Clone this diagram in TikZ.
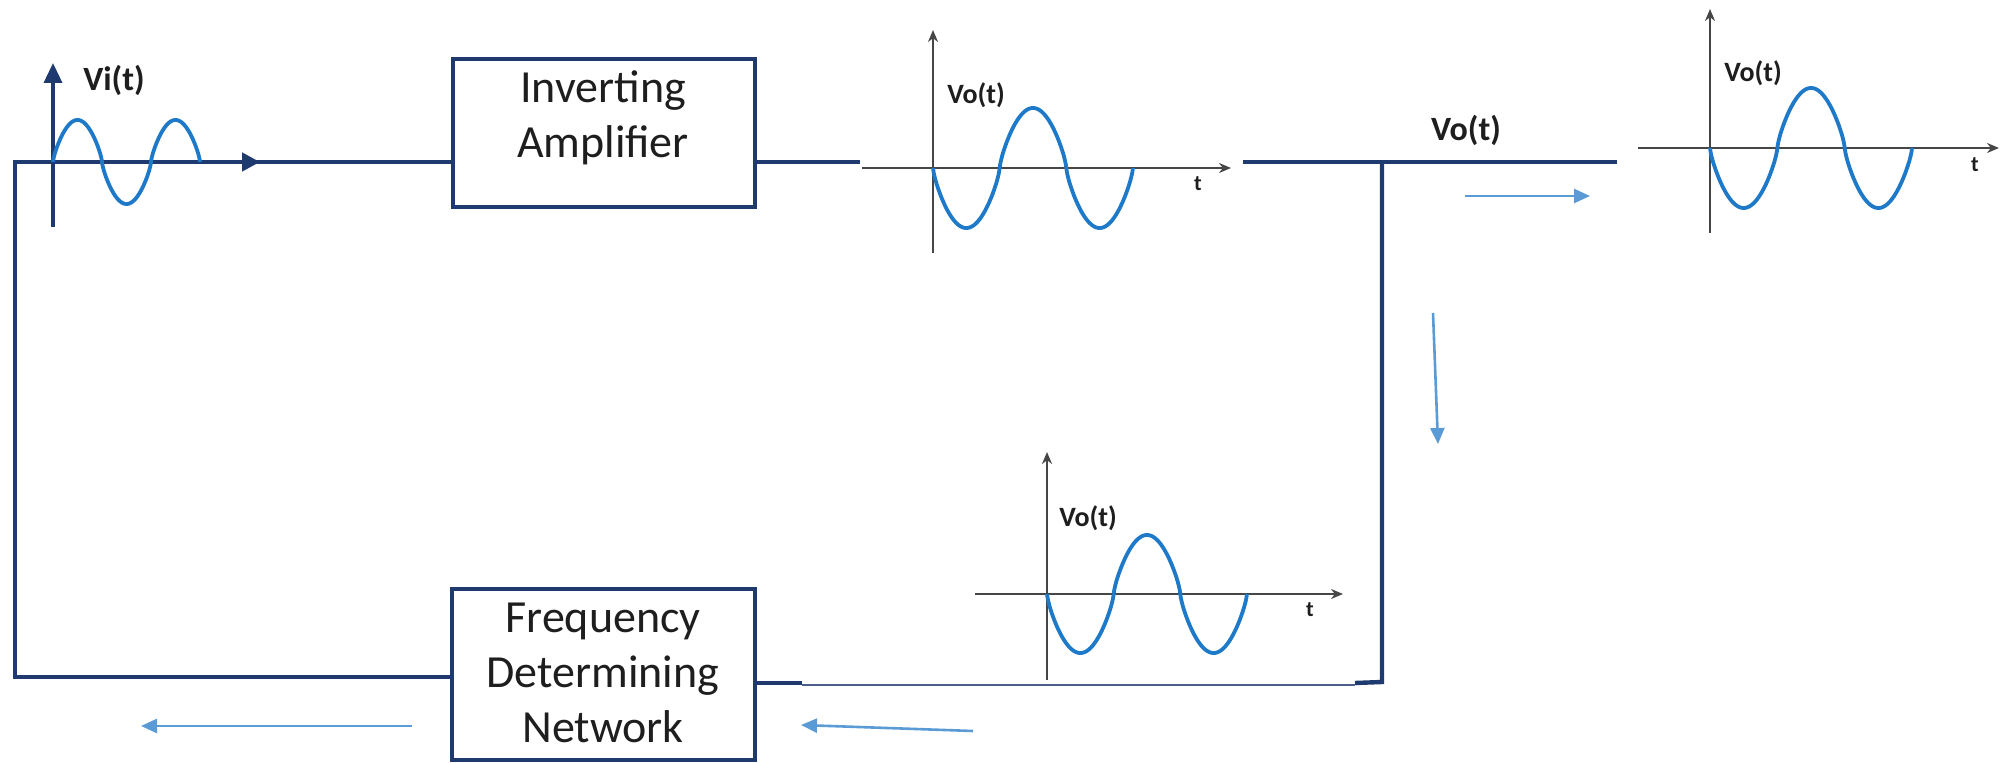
\documentclass[tikz,border=0pt]{standalone}
\usepackage{fontspec}
\setmainfont{Carlito}
\usetikzlibrary{arrows.meta}
\definecolor{navy}{RGB}{30,58,110}
\definecolor{sineblue}{RGB}{30,122,200}
\definecolor{lightarrow}{RGB}{91,155,213}
\definecolor{axisgray}{RGB}{70,70,70}
\definecolor{txt}{RGB}{30,30,30}
\tikzset{
  wire/.style={draw=navy, line width=2.2pt},
  thinwire/.style={draw=navy!80, line width=0.8pt},
  blockbox/.style={draw=navy, line width=2pt, rectangle, inner sep=0pt, fill=white},
  blocktext/.style={text=txt, align=center, inner sep=0pt, font=\fontsize{23}{27.5}\selectfont},
  sinewave/.style={draw=sineblue, line width=1.9pt, line join=round},
  axis/.style={draw=axisgray, line width=1pt, -{Stealth[length=6pt,width=5pt]}},
  flow/.style={draw=lightarrow, line width=1.3pt, -{Triangle[length=8pt,width=7pt]}},
  siglabel/.style={text=txt, inner sep=0pt, font=\bfseries\fontsize{14}{16}\selectfont},
  biglabel/.style={text=txt, inner sep=0pt, font=\bfseries\fontsize{17}{20}\selectfont},
  tlabel/.style={text=txt, inner sep=0pt, font=\bfseries\fontsize{11}{13}\selectfont}
}
\begin{document}
\begin{tikzpicture}[x=0.5pt,y=-0.5pt,
  declare function={sq(\a)=sign(sin(\a))*(abs(sin(\a))+0.0001)^0.75;}]
\useasboundingbox (0,0) rectangle (2000,763);

% blocks
\node[blockbox, minimum width=151pt, minimum height=74pt] (ia) at (604,133) {};
\node[blocktext] (iatext) at (603,118) {Inverting\\Amplifier};
\node[blockbox, minimum width=151.5pt, minimum height=85.5pt] (fdn) at (603.5,674.5) {};
\node[blocktext] (fdntext) at (603,673) {Frequency\\Determining\\Network};

% junction coordinates
\coordinate (loopTL) at (15,162);
\coordinate (loopBL) at (15,677);
\coordinate (arrI) at (260,162);
\coordinate (iaOut) at (860,162);
\coordinate (oStart) at (1243,162);
\coordinate (oEnd) at (1617,162);
\coordinate (junc) at (1382,162);
\coordinate (corner) at (1382,682);
\coordinate (thinR) at (1355,683);
\coordinate (thickL) at (802,683);
\coordinate (thinL) at (802,685);

% main loop wires
\draw[wire] (fdn.west |- loopBL) -- (loopBL) -- (loopTL) -- (ia.west |- loopTL);
\draw[draw=navy, line width=2.2pt, -{Triangle[length=9pt,width=9pt]}] (loopTL) -- (arrI);
\draw[wire] (ia.east |- iaOut) -- (iaOut);
\draw[wire] (oStart) -- (oEnd);
\draw[wire] (junc) -- (corner) -- (thinR);
\draw[thinwire] (thinR |- thinL) -- (thinL);
\draw[wire] (thickL) -- (fdn.east |- thickL);

% Vi(t) input axis and wave
\coordinate (viBot) at (53,227);
\coordinate (viTop) at (53,63);
\draw[draw=navy, line width=1.8pt, -{Triangle[length=10pt,width=9pt]}] (viBot) -- (viTop);
\draw[sinewave] plot[domain=0:540, samples=361] ({53+\x/360*98}, {162-42*sq(\x)});
\node[biglabel] (vilabel) at (114,80) {Vi(t)};

% graph 1
\draw[axis] (933,253) -- (933,30);
\draw[axis] (862,168) -- (1231,168);
\draw[sinewave] plot[domain=0:540, samples=361] ({933+\x/360*133.3}, {168+60*sq(\x)});
\node[siglabel] (g1lab) at (976,95) {Vo(t)};
\node[tlabel] (g1t) at (1198,184) {t};

% main output label
\node[biglabel] (volabel) at (1466,130) {Vo(t)};

% graph 2
\draw[axis] (1710,233) -- (1710,9);
\draw[axis] (1638,148) -- (1999,148);
\draw[sinewave] plot[domain=0:540, samples=361] ({1710+\x/360*134.7}, {148+60*sq(\x)});
\node[siglabel] (g2lab) at (1753,73) {Vo(t)};
\node[tlabel] (g2t) at (1975,165) {t};

% graph 3
\draw[axis] (1047,680) -- (1047,452);
\draw[axis] (975,594) -- (1343,594);
\draw[sinewave] plot[domain=0:540, samples=361] ({1047+\x/360*133.3}, {594+59*sq(\x)});
\node[siglabel] (g3lab) at (1088,518) {Vo(t)};
\node[tlabel] (g3t) at (1310,610) {t};

% flow arrows
\coordinate (fa1) at (1465,196); \coordinate (fa2) at (1590,196);
\coordinate (fb1) at (1433,313); \coordinate (fb2) at (1438,444);
\coordinate (fc1) at (973,731);  \coordinate (fc2) at (801,725);
\coordinate (fd1) at (412,726);  \coordinate (fd2) at (141,726);
\draw[flow] (fa1) -- (fa2);
\draw[flow] (fb1) -- (fb2);
\draw[flow] (fc1) -- (fc2);
\draw[flow] (fd1) -- (fd2);
\end{tikzpicture}
\end{document}
